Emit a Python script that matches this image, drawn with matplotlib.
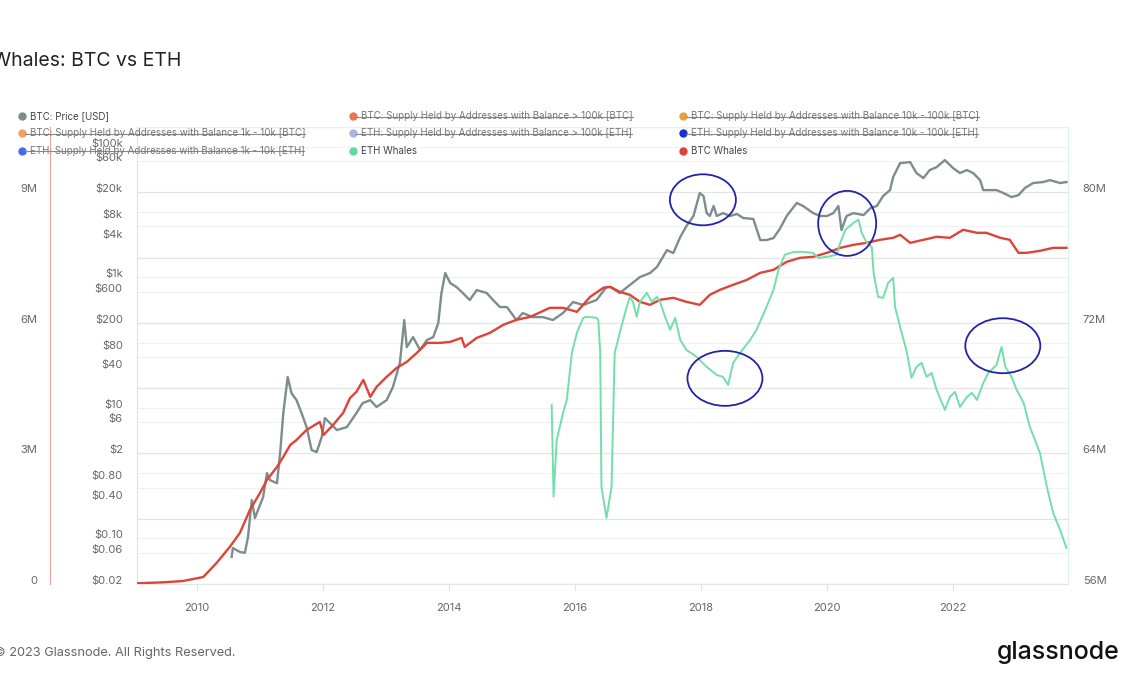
"""
Whales: BTC vs ETH -- BTC price (log) with BTC and ETH whale supply.
"""
import matplotlib
matplotlib.use('Agg')
import matplotlib.pyplot as plt
import matplotlib.transforms as mtransforms
from matplotlib.lines import Line2D
from matplotlib.patches import Ellipse

plt.rcParams['font.family'] = ['Inter', 'DejaVu Sans']

# ---- data ----
price_years = [2010.55, 2010.57, 2010.68, 2010.76, 2010.81, 2010.87, 2010.92, 2010.97,
               2011.05, 2011.11, 2011.16, 2011.27, 2011.32, 2011.37, 2011.44, 2011.50,
               2011.58, 2011.66, 2011.74, 2011.82, 2011.90, 2011.98, 2012.03, 2012.11,
               2012.22, 2012.38, 2012.53, 2012.63, 2012.75, 2012.85, 2013.01, 2013.11,
               2013.22, 2013.29, 2013.33, 2013.43, 2013.54, 2013.65, 2013.75, 2013.83,
               2013.88, 2013.94, 2014.02, 2014.12, 2014.22, 2014.33, 2014.44, 2014.60,
               2014.70, 2014.81, 2014.92, 2015.07, 2015.17, 2015.33, 2015.49, 2015.65,
               2015.81, 2015.97, 2016.13, 2016.34, 2016.50, 2016.56, 2016.71, 2016.87,
               2017.03, 2017.19, 2017.30, 2017.46, 2017.56, 2017.67, 2017.77, 2017.88,
               2017.98, 2018.04, 2018.09, 2018.14, 2018.20, 2018.25, 2018.35, 2018.46,
               2018.57, 2018.67, 2018.83, 2018.94, 2019.04, 2019.15, 2019.25, 2019.36,
               2019.52, 2019.62, 2019.78, 2019.89, 2020.00, 2020.10, 2020.18, 2020.23,
               2020.31, 2020.42, 2020.58, 2020.69, 2020.79, 2020.89, 2021.00, 2021.05,
               2021.16, 2021.32, 2021.42, 2021.53, 2021.63, 2021.74, 2021.87, 2022.00,
               2022.11, 2022.22, 2022.32, 2022.43, 2022.48, 2022.59, 2022.69, 2022.80,
               2022.93, 2023.04, 2023.14, 2023.27, 2023.43, 2023.54, 2023.70, 2023.80]
btc_price = [0.052, 0.071, 0.062, 0.06, 0.105, 0.386, 0.205, 0.272,
             0.43, 1.0, 0.78, 0.70, 2.03, 8.3, 29.6, 16.8,
             13.1, 8.3, 5.07, 2.25, 2.10, 3.57, 6.97, 5.85,
             4.56, 5.07, 8.3, 11.8, 13.1, 10.3, 13.1, 20.8,
             48.4, 221, 85, 121, 77, 109, 121, 199,
             572, 1158, 813, 706, 572, 447, 636, 572,
             447, 349, 349, 221, 283, 245, 245, 221,
             283, 417, 375, 447, 706, 706, 572, 758,
             1005, 1158, 1432, 2606, 2344, 4120, 6096, 8670,
             19450, 17500, 9600, 8670, 12330, 8670, 9600, 8670,
             9310, 8070, 7800, 3710, 3710, 3980, 5480, 8670,
             13700, 12330, 9600, 8670, 8670, 9600, 12330, 5280,
             8670, 9600, 8960, 11450, 12330, 17500, 21600, 34200,
             56000, 57950, 39400, 33000, 43800, 48600, 62200, 47000,
             39400, 43800, 39400, 30700, 21600, 21600, 21600, 19450,
             16900, 18100, 23200, 27700, 28700, 30700, 27700, 28700]

btc_whale_years = [2009.04, 2009.47, 2009.78, 2010.10, 2010.31, 2010.52, 2010.68, 2010.84,
                   2011.00, 2011.11, 2011.27, 2011.37, 2011.48, 2011.58, 2011.74, 2011.95,
                   2012.01, 2012.16, 2012.32, 2012.43, 2012.53, 2012.64, 2012.75, 2012.85,
                   2013.01, 2013.17, 2013.33, 2013.49, 2013.65, 2013.86, 2014.02, 2014.20,
                   2014.25, 2014.44, 2014.65, 2014.86, 2015.07, 2015.29, 2015.60, 2015.81,
                   2016.03, 2016.24, 2016.45, 2016.56, 2016.71, 2016.87, 2017.03, 2017.19,
                   2017.35, 2017.56, 2017.77, 2017.98, 2018.14, 2018.30, 2018.51, 2018.73,
                   2018.94, 2019.15, 2019.36, 2019.57, 2019.78, 2020.00, 2020.21, 2020.42,
                   2020.63, 2020.84, 2021.05, 2021.16, 2021.32, 2021.53, 2021.74, 2021.95,
                   2022.16, 2022.38, 2022.53, 2022.75, 2022.90, 2023.04, 2023.17, 2023.38,
                   2023.59, 2023.80]
btc_whales_m = [0.016, 0.039, 0.069, 0.161, 0.483, 0.851, 1.172, 1.701,
                2.092, 2.391, 2.690, 2.920, 3.195, 3.310, 3.540, 3.724,
                3.425, 3.655, 3.931, 4.276, 4.414, 4.690, 4.299, 4.529,
                4.759, 4.966, 5.103, 5.310, 5.540, 5.540, 5.563, 5.655,
                5.448, 5.655, 5.770, 5.954, 6.069, 6.138, 6.345, 6.345,
                6.253, 6.598, 6.805, 6.828, 6.713, 6.644, 6.483, 6.414,
                6.529, 6.575, 6.483, 6.414, 6.644, 6.759, 6.874, 6.989,
                7.149, 7.218, 7.402, 7.494, 7.517, 7.609, 7.724, 7.793,
                7.839, 7.908, 7.954, 8.023, 7.839, 7.908, 7.977, 7.954,
                8.138, 8.069, 8.069, 7.954, 7.908, 7.609, 7.609, 7.655,
                7.724, 7.724]

eth_whale_years = [2015.63, 2015.66, 2015.71, 2015.81, 2015.87, 2015.95, 2016.03, 2016.13,
                   2016.18, 2016.34, 2016.37, 2016.40, 2016.42, 2016.50, 2016.58, 2016.63,
                   2016.71, 2016.82, 2016.87, 2016.92, 2016.98, 2017.03, 2017.14, 2017.22,
                   2017.30, 2017.35, 2017.43, 2017.51, 2017.59, 2017.67, 2017.77, 2017.93,
                   2018.09, 2018.25, 2018.35, 2018.43, 2018.51, 2018.62, 2018.78, 2018.88,
                   2019.04, 2019.15, 2019.23, 2019.33, 2019.47, 2019.62, 2019.78, 2019.86,
                   2020.00, 2020.15, 2020.21, 2020.29, 2020.42, 2020.50, 2020.55, 2020.63,
                   2020.71, 2020.74, 2020.81, 2020.89, 2020.97, 2021.05, 2021.08, 2021.16,
                   2021.27, 2021.34, 2021.42, 2021.50, 2021.58, 2021.66, 2021.74, 2021.87,
                   2021.95, 2022.03, 2022.11, 2022.22, 2022.30, 2022.38, 2022.48, 2022.56,
                   2022.69, 2022.77, 2022.83, 2022.93, 2023.01, 2023.12, 2023.22, 2023.38,
                   2023.49, 2023.59, 2023.70, 2023.80]
eth_whales_m = [66.97, 61.35, 64.83, 66.48, 67.28, 70.16, 71.39, 72.31,
                72.37, 72.31, 72.18, 70.16, 61.95, 60.05, 61.95, 70.16,
                71.39, 72.98, 73.59, 73.29, 72.37, 73.29, 73.84, 73.29,
                73.59, 73.29, 72.37, 71.57, 72.31, 70.96, 70.34, 69.92,
                69.30, 68.81, 68.69, 68.20, 69.55, 70.16, 70.96, 71.57,
                72.98, 74.02, 75.25, 76.17, 76.35, 76.35, 76.29, 75.98,
                76.05, 76.17, 76.90, 77.70, 78.13, 78.32, 77.52, 76.90,
                76.66, 75.06, 73.59, 73.53, 74.45, 74.76, 72.98, 71.75,
                70.16, 68.63, 69.30, 69.55, 68.69, 68.93, 67.89, 66.67,
                67.46, 67.77, 66.85, 67.46, 67.71, 67.28, 68.32, 68.93,
                69.42, 70.53, 69.30, 68.69, 67.89, 67.10, 65.62, 64.03,
                61.95, 60.35, 59.31, 58.21]

year_ticks = [2010, 2012, 2014, 2016, 2018, 2020, 2022]
price_ticks = [0.02, 0.06, 0.10, 0.40, 0.80, 2, 6, 10, 40, 80, 200, 600,
               1000, 4000, 8000, 20000, 60000, 100000]
price_labels = ['$0.02', '$0.06', '$0.10', '$0.40', '$0.80', '$2', '$6', '$10',
                '$40', '$80', '$200', '$600', '$1k', '$4k', '$8k', '$20k',
                '$60k', '$100k']
btc_ticks = [0, 3e6, 6e6, 9e6]
btc_labels = ['0', '3M', '6M', '9M']
eth_ticks = [56e6, 64e6, 72e6, 80e6]
eth_labels = ['56M', '64M', '72M', '80M']

legend_items = [
    ('BTC: Price [USD]', '#7d8c8d', False),
    ('BTC: Supply Held by Addresses with Balance > 100k [BTC]', '#e8774f', True),
    ('BTC: Supply Held by Addresses with Balance 10k - 100k [BTC]', '#e6a03c', True),
    ('BTC: Supply Held by Addresses with Balance 1k - 10k [BTC]', '#f0a262', True),
    ('ETH: Supply Held by Addresses with Balance > 100k [ETH]', '#aab2e6', True),
    ('ETH: Supply Held by Addresses with Balance 10k - 100k [ETH]', '#1530d8', True),
    ('ETH: Supply Held by Addresses with Balance 1k - 10k [ETH]', '#4a6be0', True),
    ('ETH Whales', '#64d9a0', False),
    ('BTC Whales', '#dc4438', False),
]

# hand-drawn highlight circles: (year, axis, value, width px, height px)
highlights = [(2018.03, 'price', 15350, 66, 51),
              (2020.32, 'price', 6680, 58, 65),
              (2018.38, 'eth', 68.6e6, 75, 55),
              (2022.79, 'eth', 70.6e6, 75, 55)]

GREY = '#7d8c8d'
RED = '#dc4438'
GREEN = '#72dfaa'
TXT = '#666666'

W, H = 1140, 694
fig = plt.figure(figsize=(W / 100, H / 100), dpi=100)
ax = fig.add_axes([137 / W, 1 - 584 / H, 931 / W, 457 / H])
ax_btc = ax.twinx()
ax_eth = ax.twinx()

ax.plot(price_years, btc_price, color=GREY, lw=1.7, zorder=3)
ax_btc.plot(btc_whale_years, [v * 1e6 for v in btc_whales_m], color=RED, lw=1.7)
ax_eth.plot(eth_whale_years, [v * 1e6 for v in eth_whales_m], color=GREEN, lw=1.4)

ax.set_xlim(2009.048, 2023.825)
ax.set_yscale('log')
ax.set_ylim(0.02, 2e5)
ax_btc.set_ylim(0, 10.5e6)
ax_eth.set_ylim(56e6, 84e6)

# horizontal grid: major at 2x10^k, lighter lines at 10^k and 6x10^(k-1)
for k in range(-2, 6):
    ax.axhline(2 * 10.0 ** k, color='#e4e4e4', lw=0.9, zorder=0)
    ax.axhline(10.0 ** k, color='#f1f1f1', lw=0.8, zorder=0)
    ax.axhline(0.6 * 10.0 ** k, color='#f1f1f1', lw=0.8, zorder=0)

ax.set_xticks(year_ticks)
ax.set_xticklabels([str(y) for y in year_ticks])
ax.tick_params(axis='x', length=5, color='#e4e4e4', pad=9, labelsize=8,
               labelcolor=TXT)

ax.yaxis.set_major_locator(matplotlib.ticker.FixedLocator(price_ticks))
ax.yaxis.set_minor_locator(matplotlib.ticker.NullLocator())
ax.set_yticklabels(price_labels)
ax.tick_params(axis='y', length=0, pad=10.3, labelsize=8, labelcolor=TXT)

ax_btc.yaxis.tick_left()
ax_btc.spines['left'].set_position(('axes', (50 - 137) / 931))
ax_btc.set_yticks(btc_ticks)
ax_btc.set_yticklabels(btc_labels)
ax_btc.tick_params(axis='y', length=0, pad=9.4, labelsize=8, labelcolor=TXT)

ax_eth.set_yticks(eth_ticks)
ax_eth.set_yticklabels(eth_labels)
ax_eth.tick_params(axis='y', length=0, pad=10.6, labelsize=8, labelcolor=TXT)

for a in (ax, ax_btc, ax_eth):
    for lbl in a.get_yticklabels():
        lbl.set_verticalalignment('baseline')
    for s in a.spines.values():
        s.set_visible(False)

ax.spines['left'].set_visible(True)
ax.spines['left'].set_color('#e2e2e2')
ax.spines['bottom'].set_visible(True)
ax.spines['bottom'].set_color('#e4e4e4')
ax.spines['top'].set_visible(True)
ax.spines['top'].set_color('#eeeeee')
ax_btc.spines['left'].set_visible(True)
ax_btc.spines['left'].set_color('#e6a49a')
ax_eth.spines['right'].set_visible(True)
ax_eth.spines['right'].set_color('#dcefe6')

# highlight ellipses
for yr, which, val, w, h in highlights:
    src = ax if which == 'price' else ax_eth
    cx, cy = src.transData.transform((yr, val))
    fig.add_artist(Ellipse((cx, cy), w, h, fill=False, edgecolor='#2323a8',
                           lw=1.3, transform=mtransforms.IdentityTransform(),
                           zorder=10))

# title & footer
fig.text(-8 / W, 1 - 61 / H, 'Whales: BTC vs ETH', fontsize=14, color='#222222',
         va='center', ha='left')
fig.text(-6 / W, 1 - 653 / H, '\u00a9 2023 Glassnode. All Rights Reserved.',
         fontsize=9.2, color='#666666', va='center', ha='left')
fig.text(1120 / W, 1 - 653 / H, 'glassnode', fontsize=18, color='#111111',
         va='center', ha='right', fontweight='medium')

# legend (3 columns), struck-out entries are hidden series
col_dot = [21.7, 352.7, 682.7]
col_txt = [29.5, 361, 691]
row_y = [116, 133.3, 150.7]
struck = []
for i, (name, col, off) in enumerate(legend_items):
    r, c = divmod(i, 3)
    fy = 1 - row_y[r] / H
    fig.add_artist(Line2D([col_dot[c] / W], [fy], marker='o', ms=5,
                          color=col, transform=fig.transFigure))
    t = fig.text(col_txt[c] / W, fy, name, fontsize=7, va='center', ha='left',
                 color='#777777' if off else '#444444')
    if off:
        struck.append(t)

fig.canvas.draw()
renderer = fig.canvas.get_renderer()
for t in struck:
    bb = t.get_window_extent(renderer)
    ym = (bb.y0 + bb.y1) / 2 - 0.5
    fig.add_artist(Line2D([bb.x0 - 5, bb.x1], [ym, ym], color='#888888',
                          lw=0.8, transform=mtransforms.IdentityTransform()))

fig.savefig('out.png', dpi=100, facecolor='white')
